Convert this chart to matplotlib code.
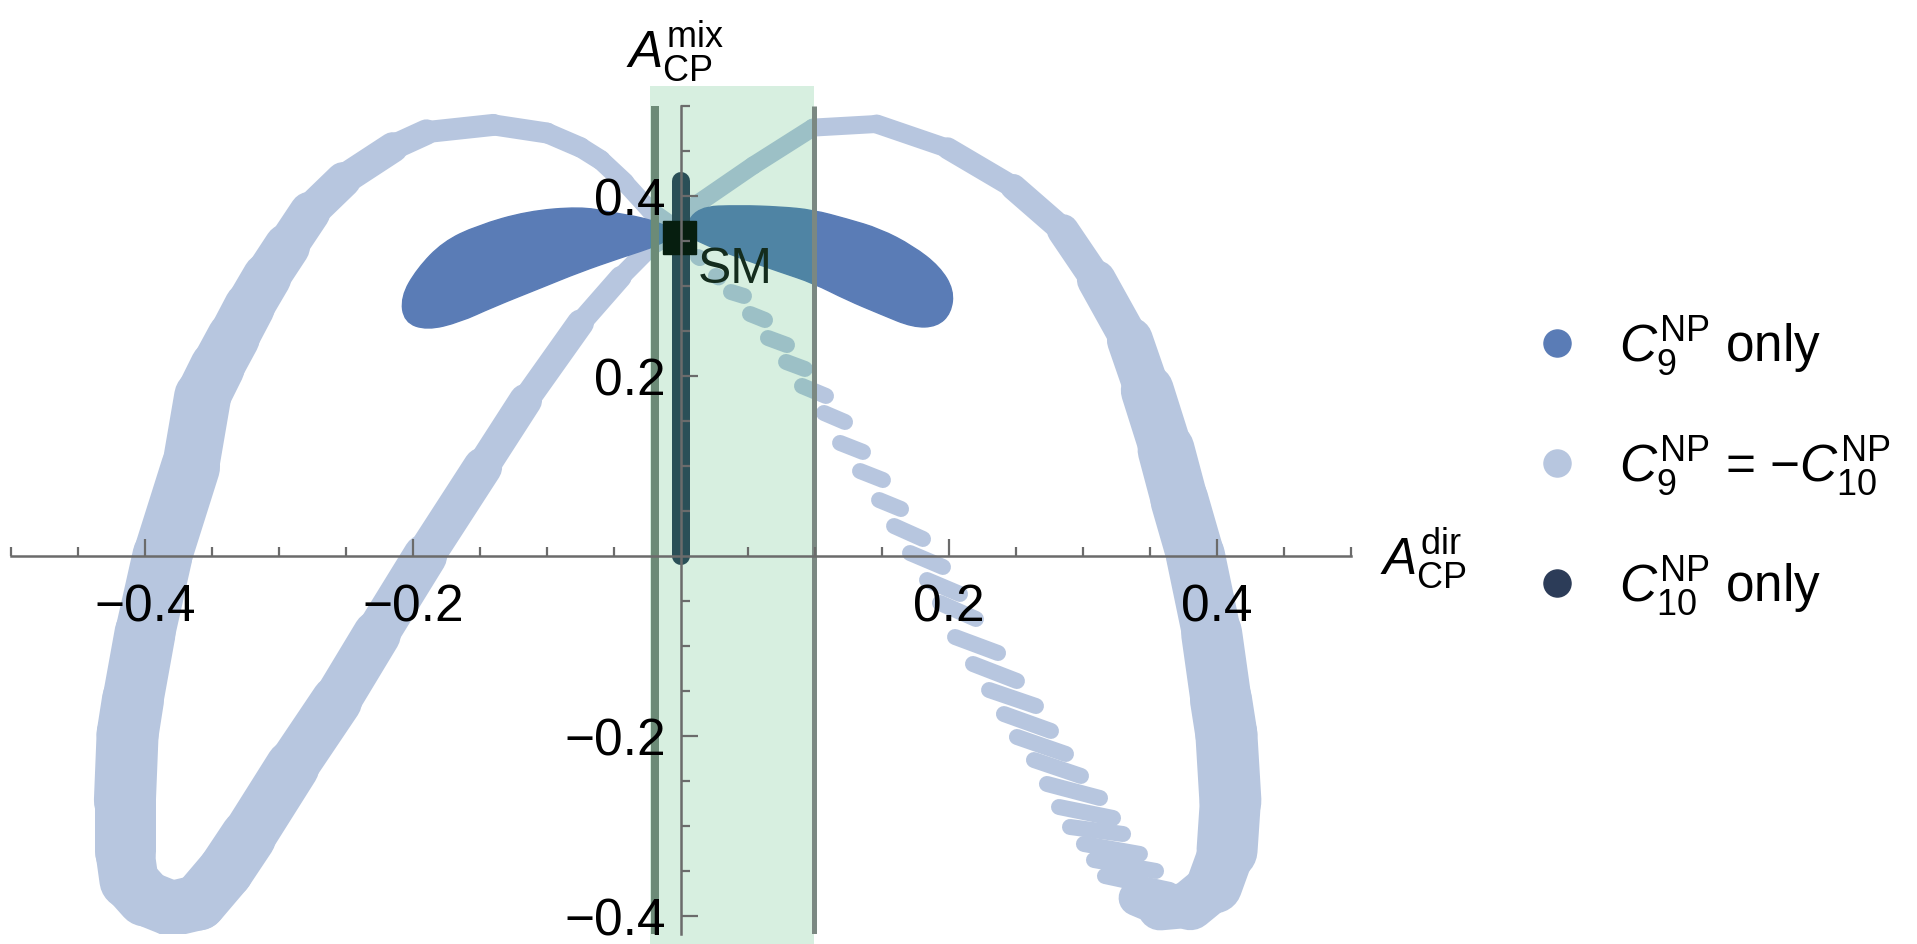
import matplotlib
matplotlib.use('Agg')
import matplotlib.pyplot as plt
from matplotlib.collections import LineCollection
from matplotlib.patches import Rectangle, PathPatch
from matplotlib.path import Path
from matplotlib.lines import Line2D

plt.rcParams['font.family'] = ['Liberation Sans', 'DejaVu Sans']
plt.rcParams['mathtext.fontset'] = 'custom'
plt.rcParams['mathtext.rm'] = 'Liberation Sans'
plt.rcParams['mathtext.it'] = 'Liberation Sans:italic'
plt.rcParams['mathtext.bf'] = 'Liberation Sans:bold'
plt.rcParams['mathtext.sf'] = 'Liberation Sans'

# ---------------- data ----------------
# C9 = -C10 : continuous band (centre line) and its local width in pixels
band_x = [-0.005, -0.023, -0.042, -0.060, -0.075, -0.100, -0.140, -0.190, -0.215, -0.252,
          -0.277, -0.294, -0.309, -0.322, -0.334, -0.346, -0.357, -0.366, -0.387, -0.400,
          -0.409, -0.413, -0.415, -0.415, -0.412, -0.400, -0.380, -0.360, -0.340, -0.323,
          -0.290, -0.257, -0.227, -0.191, -0.148, -0.116, -0.075, -0.045, -0.023, 0.000,
          0.009, 0.054, 0.0985, 0.146, 0.199, 0.248, 0.285, 0.310, 0.335, 0.348,
          0.362, 0.372, 0.384, 0.396, 0.403, 0.407, 0.410, 0.4075, 0.398, 0.380,
          0.3575, 0.340]
band_y = [0.365, 0.384, 0.415, 0.440, 0.454, 0.470, 0.479, 0.471, 0.454, 0.418,
          0.382, 0.344, 0.310, 0.277, 0.243, 0.210, 0.177, 0.099, 0.000, -0.086,
          -0.160, -0.198, -0.272, -0.328, -0.360, -0.380, -0.392, -0.385, -0.350, -0.312,
          -0.234, -0.161, -0.087, 0.000, 0.099, 0.173, 0.259, 0.310, 0.343, 0.365,
          0.388, 0.434, 0.476, 0.480, 0.453, 0.410, 0.362, 0.307, 0.240, 0.184,
          0.118, 0.062, 0.000, -0.086, -0.160, -0.198, -0.272, -0.327, -0.366, -0.388,
          -0.391, -0.380]
band_w_px = [18, 18, 19, 20, 20, 21, 21, 23, 28, 33,
             38, 44, 48, 50, 52, 54, 56, 58, 60, 60,
             62, 62, 62, 60, 58, 56, 55, 56, 56, 56,
             52, 50, 46, 42, 36, 30, 24, 20, 18, 18,
             18, 18, 18, 18, 20, 24, 28, 36, 42, 50,
             56, 58, 58, 60, 62, 62, 62, 60, 52, 48,
             42, 30]

# C9 = -C10 : separated streaks (right inner arc)
streak_x0 = [0.0127, 0.0261, 0.0373, 0.0515, 0.0649, 0.0784, 0.0903, 0.1067, 0.1187, 0.1336,
             0.1478, 0.1590, 0.1709, 0.1836, 0.1933, 0.2045, 0.2179, 0.2299, 0.2410, 0.2507,
             0.2634, 0.2731, 0.2821, 0.2903, 0.3007, 0.3082, 0.3164]
streak_y0 = [0.3322, 0.3111, 0.2933, 0.2689, 0.2422, 0.2156, 0.1889, 0.1589, 0.1256, 0.0944,
             0.0622, 0.0333, 0.0033, -0.0267, -0.0522, -0.0900, -0.1200, -0.1489, -0.1756, -0.2011,
             -0.2267, -0.2533, -0.2789, -0.3011, -0.3200, -0.3378, -0.3556]
streak_x1 = [0.0140, 0.0280, 0.0470, 0.0627, 0.0791, 0.0925, 0.1082, 0.1224, 0.1358, 0.1507,
             0.1642, 0.1806, 0.1955, 0.2082, 0.2201, 0.2366, 0.2507, 0.2649, 0.2761, 0.2873,
             0.2985, 0.3127, 0.3224, 0.3299, 0.3425, 0.3545, 0.3649]
streak_y1 = [0.3310, 0.3095, 0.2889, 0.2622, 0.2344, 0.2078, 0.1778, 0.1489, 0.1156, 0.0844,
             0.0522, 0.0189, -0.0122, -0.0422, -0.0700, -0.1078, -0.1389, -0.1667, -0.1944, -0.2200,
             -0.2444, -0.2689, -0.2911, -0.3089, -0.3311, -0.3500, -0.3711]

# C9 only : two lobes (outlines)
c9_left_x = [-0.0015, -0.0231, -0.0530, -0.0754, -0.1149, -0.1522, -0.1776, -0.1970, -0.2090,
             -0.2065, -0.1896, -0.1649, -0.1403, -0.1030, -0.0754, -0.0455, -0.0157]
c9_left_y = [0.3600, 0.3744, 0.3822, 0.3880, 0.3830, 0.3670, 0.3490, 0.3190, 0.2878,
             0.2600, 0.2510, 0.2600, 0.2767, 0.2989, 0.3156, 0.3311, 0.3456]
c9_right_x = [0.0015, 0.0119, 0.0440, 0.0739, 0.0985, 0.1239, 0.1485, 0.1731, 0.1930, 0.2035,
              0.2015, 0.1910, 0.1731, 0.1485, 0.1239, 0.0985, 0.0739, 0.0440, 0.0142]
c9_right_y = [0.3600, 0.3880, 0.3895, 0.3880, 0.3845, 0.3745, 0.3635, 0.3445, 0.3215, 0.2956,
              0.2700, 0.2550, 0.2540, 0.2690, 0.2844, 0.3033, 0.3156, 0.3311, 0.3478]

# C10 only : vertical strip at A_dir = 0
c10_x = [0.0, 0.0]
c10_y = [0.0, 0.417]

# SM point
sm_x = [-0.0015]
sm_y = [0.354]

# experimental band in A_dir
band_lo, band_hi = -0.023, 0.0996
band_line_lo = -0.0195

xticks_major = [-0.4, -0.2, 0.2, 0.4]
xtick_labels = ['\u22120.4', '\u22120.2', '0.2', '0.4']
yticks_major = [-0.4, -0.2, 0.2, 0.4]
ytick_labels = ['\u22120.4', '\u22120.2', '0.2', '0.4']
xticks_minor = [-0.5, -0.45, -0.35, -0.3, -0.25, -0.15, -0.1, -0.05, 0.05, 0.1, 0.15, 0.25, 0.3, 0.35, 0.45, 0.5]
yticks_minor = [-0.35, -0.3, -0.25, -0.15, -0.1, -0.05, 0.05, 0.1, 0.15, 0.25, 0.3, 0.35, 0.45, 0.5]

legend_labels = [r'$C_9^{\mathrm{NP}}$ only',
                 r'$C_9^{\mathrm{NP}}$ = $-C_{10}^{\mathrm{NP}}$',
                 r'$C_{10}^{\mathrm{NP}}$ only']

# ---------------- styling ----------------
col_c9 = '#5a7cb6'
col_mix = '#b7c6df'
col_c10 = '#2c3c58'
axis_col = '#6b6b6b'
PX = 72.0 / 100.0   # pixels -> points


def smooth_closed(xs, ys):
    pts = list(zip(xs, ys))
    n = len(pts)
    mids = [((pts[i][0] + pts[(i + 1) % n][0]) / 2, (pts[i][1] + pts[(i + 1) % n][1]) / 2)
            for i in range(n)]
    verts = [mids[n - 1]]
    codes = [Path.MOVETO]
    for i in range(n):
        verts += [pts[i], mids[i]]
        codes += [Path.CURVE3, Path.CURVE3]
    verts.append(mids[n - 1])
    codes.append(Path.CLOSEPOLY)
    return Path(verts, codes)


fig = plt.figure(figsize=(19.17, 9.44), dpi=100)
ax = fig.add_axes([11 / 1917, 1 - 934 / 944, 1340 / 1917, (934 - 106) / 944])
ax.set_xlim(-0.5, 0.5)
ax.set_ylim(-0.42, 0.5)
ax.patch.set_alpha(0)

# C9 = -C10 band
segs = []
widths = []
for i in range(len(band_x) - 1):
    segs.append([(band_x[i], band_y[i]), (band_x[i + 1], band_y[i + 1])])
    widths.append(0.5 * (band_w_px[i] + band_w_px[i + 1]) * PX)
lc = LineCollection(segs, linewidths=widths, colors=col_mix, capstyle='round',
                    joinstyle='round', zorder=1)
ax.add_collection(lc)

ssegs = [[(a, b), (c, d)] for a, b, c, d in zip(streak_x0, streak_y0, streak_x1, streak_y1)]
lc2 = LineCollection(ssegs, linewidths=16 * PX, colors=col_mix, capstyle='round', zorder=1)
ax.add_collection(lc2)

# C9 only lobes
for xs, ys in [(c9_left_x, c9_left_y), (c9_right_x, c9_right_y)]:
    ax.add_patch(PathPatch(smooth_closed(xs, ys), facecolor=col_c9, edgecolor=col_c9,
                           lw=1, zorder=2))

# C10 only
ax.plot(c10_x, c10_y, color=col_c10, lw=18 * PX, solid_capstyle='round', zorder=3)

# SM
ax.plot(sm_x, sm_y, ls='none', marker='s', ms=33 * PX, color='black', zorder=4)
ax.text(0.0125, 0.303, 'SM', fontsize=36, color='#111111', zorder=4)

# experimental band
rect = Rectangle((band_lo, -0.47), band_hi - band_lo, 0.522 + 0.47, facecolor='#22aa55',
                 alpha=0.18, edgecolor='none', zorder=5, clip_on=False)
ax.add_patch(rect)
ax.plot([band_line_lo, band_line_lo], [-0.42, 0.5], color='#6c8b77', lw=8 * PX, zorder=5.5,
        solid_capstyle='butt')
ax.plot([band_hi, band_hi], [-0.42, 0.5], color='#7b8882', lw=5 * PX, zorder=5.5,
        solid_capstyle='butt')

# axes
for s in ['top', 'right']:
    ax.spines[s].set_visible(False)
for s in ['left', 'bottom']:
    ax.spines[s].set_position(('data', 0))
    ax.spines[s].set_color(axis_col)
    ax.spines[s].set_linewidth(1.8)
    ax.spines[s].set_zorder(6)
ax.xaxis.set_zorder(6)
ax.yaxis.set_zorder(6)

ax.set_xticks(xticks_major)
ax.set_xticklabels(xtick_labels)
ax.set_yticks(yticks_major)
ax.set_yticklabels(ytick_labels)
ax.set_xticks(xticks_minor, minor=True)
ax.set_yticks(yticks_minor, minor=True)
ax.tick_params(which='both', direction='in', color=axis_col, width=1.6)
ax.tick_params(which='major', length=12, labelsize=37)
ax.tick_params(which='minor', length=6.5)
ax.tick_params(axis='x', which='major', pad=20)
ax.tick_params(axis='y', which='major', pad=11)

ax.text(0.522, -0.021, r'$A_{\mathrm{CP}}^{\mathrm{dir}}$', fontsize=37, ha='left',
        va='baseline', clip_on=False)
ax.text(-0.041, 0.543, r'$A_{\mathrm{CP}}^{\mathrm{mix}}$', fontsize=37, ha='left',
        va='baseline', clip_on=False)

handles = [Line2D([], [], ls='none', marker='o', ms=19.5, color=c)
           for c in [col_c9, col_mix, col_c10]]
ax.legend(handles, legend_labels, loc='center left', bbox_to_anchor=(1531 / 1917, 1 - 466 / 944),
          bbox_transform=fig.transFigure, frameon=False, fontsize=37, handlelength=1.0,
          handletextpad=0.72, labelspacing=1.1, borderpad=0, borderaxespad=0)

fig.savefig('out.png', dpi=100)
